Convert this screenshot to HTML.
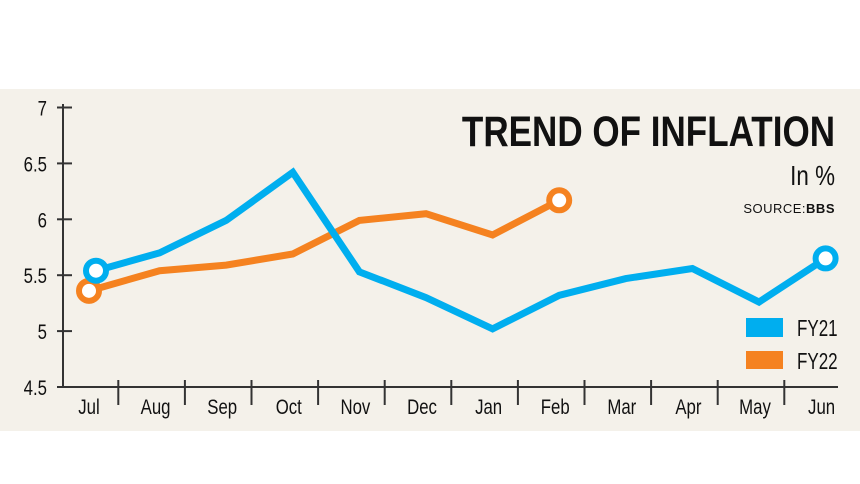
<!DOCTYPE html>
<html><head><meta charset="utf-8"><style>
body{margin:0;background:#fff;}
svg{display:block;}
text{font-family:"Liberation Sans",sans-serif;}
</style></head><body>
<svg id="chart" width="860" height="484">
<rect x="0" y="89" width="860" height="342" fill="#f4f1ea"/>
<g id="axes"></g>
<g id="series"></g>
<text x="835" y="146" text-anchor="end" font-size="43" font-weight="bold" fill="#111" transform="translate(835,0) scale(0.815,1) translate(-835,0)">TREND OF INFLATION</text>
<text x="835" y="185" text-anchor="end" font-size="28" fill="#111" transform="translate(835,0) scale(0.8,1) translate(-835,0)">In %</text>
<text x="835" y="213" text-anchor="end" font-size="13" fill="#111" letter-spacing="0.5">SOURCE:<tspan font-weight="bold">BBS</tspan></text>
<rect x="746" y="318" width="37" height="19" fill="#00aeef"/>
<text x="797" y="336" font-size="23" fill="#111" transform="translate(797,0) scale(0.74,1) translate(-797,0)">FY21</text>
<rect x="746" y="351" width="37" height="18" fill="#f58220"/>
<text x="797" y="369" font-size="23" fill="#111" transform="translate(797,0) scale(0.74,1) translate(-797,0)">FY22</text>
</svg>
<script>
const months=["Jul","Aug","Sep","Oct","Nov","Dec","Jan","Feb","Mar","Apr","May","Jun"];
const fy21=[5.54,5.70,5.99,6.42,5.53,5.30,5.02,5.32,5.47,5.56,5.26,5.65];
const fy22=[5.36,5.54,5.59,5.69,5.99,6.05,5.86,6.17];
const yTicks=[7,6.5,6,5.5,5,4.5];
const yTickLabels=["7","6.5","6","5.5","5","4.5"];
const NS="http://www.w3.org/2000/svg";
function xS(i){return 93+i*66.6;}
function yS(v){return 387-(v-4.5)*111.8;}
function mk(tag,attrs,parent){const e=document.createElementNS(NS,tag);for(const k in attrs)e.setAttribute(k,attrs[k]);parent.appendChild(e);return e;}
const axes=document.getElementById('axes');
const series=document.getElementById('series');
let a=mk('line',{x1:63,y1:104,x2:63,y2:387,stroke:'#333','stroke-width':2},axes);


a=mk('line',{x1:57,y1:387,x2:838,y2:387,stroke:'#333','stroke-width':2},axes);


yTicks.forEach((v,i)=>{
  const t=mk('line',{x1:57,x2:72,y1:yS(v),y2:yS(v),stroke:'#333','stroke-width':2},axes);
  
  
  const l=mk('text',{x:47,y:yS(v)+8,'text-anchor':'end','font-size':21,fill:'#111',transform:`translate(47,0) scale(0.8,1) translate(-47,0)`},axes);
  l.textContent=yTickLabels[i];
  
  
});
months.forEach((m,i)=>{
  const cx=xS(i)-4;
  const l=mk('text',{x:cx,y:414,'text-anchor':'middle','font-size':21,fill:'#111',transform:`translate(${cx},0) scale(0.8,1) translate(${-cx},0)`},axes);
  l.textContent=m;
  
  
  if(i<months.length-1){
    const sx=xS(i)+33.3-8;
    const t=mk('line',{x1:sx,x2:sx,y1:380,y2:405,stroke:'#333','stroke-width':2},axes);
    
    
  }
});
function draw(vals,color,name,off){
  const px=i=>xS(i)+(i===0?off:0);
  const pts=vals.map((v,i)=>px(i)+','+yS(v)).join(' ');
  const p=mk('polyline',{points:pts,fill:'none',stroke:color,'stroke-width':7,'stroke-linejoin':'miter'},series);
  
  
  [0,vals.length-1].forEach(i=>{
    const c=mk('circle',{cx:px(i),cy:yS(vals[i]),r:10,fill:'#fff',stroke:color,'stroke-width':6},series);
    
    
  });
}
draw(fy22,'#f58220','fy22',-4);
draw(fy21,'#00aeef','fy21',3);
</script>
</body></html>
